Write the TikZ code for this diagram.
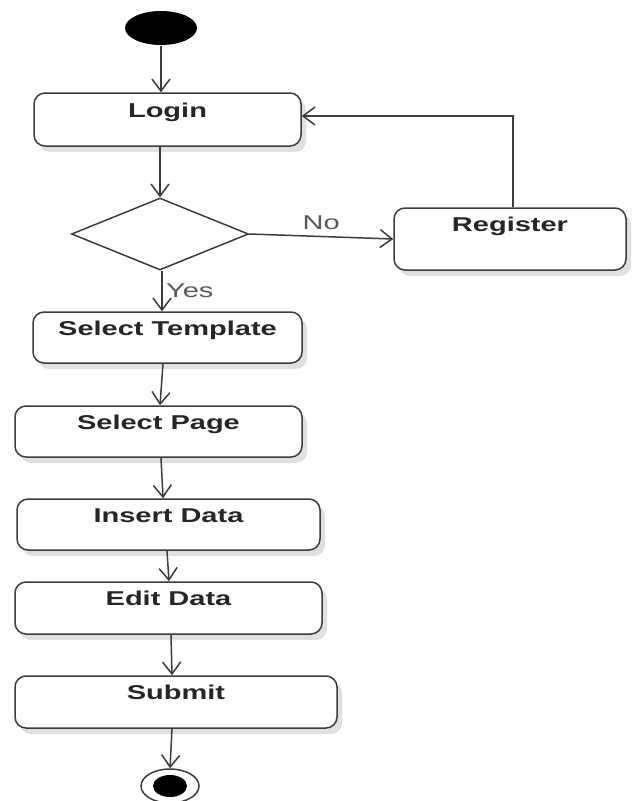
\documentclass[tikz,border=0pt]{standalone}
\usepackage{fontspec}
\setmainfont{Liberation Sans}
\newfontfamily\umlfont[FakeStretch=1.45]{Liberation Sans}
\usetikzlibrary{shapes.geometric,shadows,arrows.meta}
\definecolor{umlline}{HTML}{3C3C3C}
\definecolor{umltext}{HTML}{262626}

\begin{document}
\begin{tikzpicture}[x=1pt,y=-1pt,line width=1.5pt,
  activity/.style={draw=umlline, fill=white, rounded corners=11pt, inner sep=0pt,
    text height=23pt, text depth=28pt, text=umltext,
    font=\umlfont\bfseries\fontsize{20}{24}\selectfont,
    drop shadow={shadow xshift=5pt, shadow yshift=-6pt, fill=black, opacity=0.12}},
  flow/.style={draw=umlline, -{Straight Barb[length=12pt,width=18pt]}},
  guard/.style={font=\umlfont\fontsize{20}{24}\selectfont, text=umlline!85}]

  \useasboundingbox (0,0) rectangle (633,801);

  % states and activities
  \node [ellipse, fill=black, minimum width=72pt, minimum height=34pt] (start) at (161,28) {};
  \node [activity, minimum width=267pt, text height=24pt, text depth=29pt] (login) at (167.5,119.5) {Login};
  \node [diamond, draw=umlline, fill=white, inner sep=0pt,
    minimum width=177pt, minimum height=72pt] (decide) at (160,234) {};
  \node [activity, minimum width=232pt, text depth=39pt] (register) at (510,239) {Register};
  \node [activity, minimum width=269pt] (template) at (167.5,337.5) {Select Template};
  \node [activity, minimum width=287pt] (page) at (158.5,431.5) {Select Page};
  \node [activity, minimum width=303pt] (insert) at (168.5,524.5) {Insert Data};
  \node [activity, minimum width=307pt, text depth=29pt] (edit) at (168.5,608) {Edit Data};
  \node [activity, minimum width=322pt, text depth=29pt] (submit) at (176,702) {Submit};
  \node [ellipse, draw=umlline, fill=white, minimum width=58pt, minimum height=34pt] (stop) at (170,786) {};
  \node [ellipse, fill=black, minimum width=34pt, minimum height=22pt] (stopdot) at (stop) {};

  % transitions
  \draw [flow] (start) -- (login.north -| start);
  \draw [flow] (login.south -| decide) -- (decide.north);
  \draw [flow] (decide.east) -- (register.west)
    node [guard, midway, above=3pt] {No};
  \draw [flow] ([xshift=3pt]register.north) |- ([yshift=3.5pt]login.east);
  \draw [flow] ([xshift=2pt]decide.south) -- ([xshift=-5.5pt]template.north)
    node [guard, midway, right=0pt] {Yes};
  \draw [flow] ([xshift=-4.5pt]template.south) -- ([xshift=1.5pt]page.north);
  \draw [flow] ([xshift=2.5pt]page.south) -- ([xshift=-5.5pt]insert.north);
  \draw [flow] ([xshift=-1.5pt]insert.south) -- ([xshift=0.5pt]edit.north);
  \draw [flow] ([xshift=2.5pt]edit.south) -- ([xshift=-4pt]submit.north);
  \draw [flow] ([xshift=-4pt]submit.south) -- (stop.north);
\end{tikzpicture}
\end{document}
